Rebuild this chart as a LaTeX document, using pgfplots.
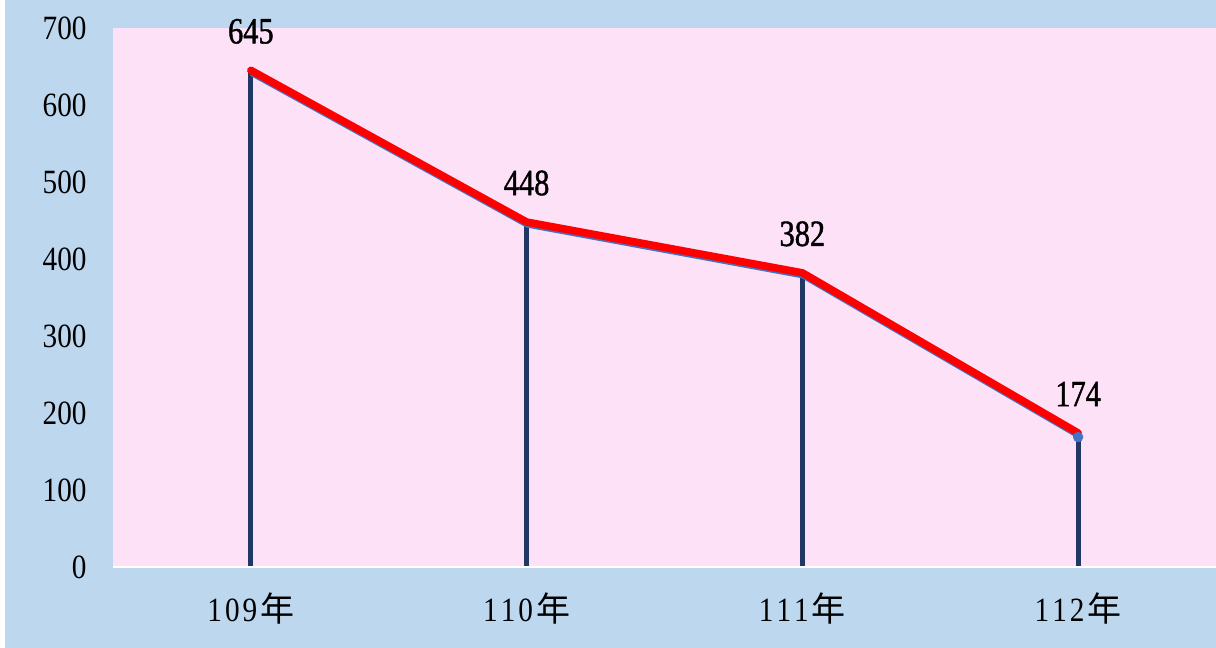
\documentclass[border=0pt]{standalone}
\usepackage{fontspec}
\usepackage{pgfplots}
\pgfplotsset{compat=1.18}
\setmainfont{Liberation Serif}
\newfontfamily\tickfont[FakeStretch=0.86]{Liberation Serif}
\newfontfamily\labfont[FakeStretch=0.82,FakeBold=1.2]{Liberation Serif}
\newfontfamily\cjk{Noto Sans CJK TC}
\definecolor{bgblue}{RGB}{189,215,238}
\definecolor{pinkbg}{RGB}{253,225,247}
\definecolor{navy}{RGB}{32,56,100}
\definecolor{lblue}{RGB}{68,114,196}
\begin{document}
\begin{tikzpicture}[x=1pt,y=1pt]
\fill[white] (0,0) rectangle (608,324);
\fill[bgblue] (2.5,0) rectangle (608,324);
\begin{axis}[at={(56.5pt,40.5pt)}, anchor=south west, scale only axis,
  width=551.5pt, height=269.5pt,
  xmin=-0.5, xmax=3.5, ymin=0, ymax=700,
  axis background/.style={fill=pinkbg},
  axis line style={draw=none},
  major tick length=0pt,
  xtick={0,1,2,3},
  xticklabels={1\hspace{1.5pt}0\hspace{1.5pt}9\hspace{1.5pt}{\cjk 年},
               1\hspace{1.5pt}1\hspace{1.5pt}0\hspace{1.5pt}{\cjk 年},
               1\hspace{1.5pt}1\hspace{1.5pt}1\hspace{1.5pt}{\cjk 年},
               1\hspace{1.5pt}1\hspace{1.5pt}2\hspace{1.5pt}{\cjk 年}},
  ytick distance=100,
  yticklabel style={/pgf/number format/assume math mode=true, font=\tickfont\fontsize{17}{17}\selectfont, anchor=east, inner sep=0pt, xshift=-13pt},
  xticklabel style={font=\tickfont\fontsize{17}{17}\selectfont, anchor=north, inner sep=0pt, yshift=-12.5pt},
  clip=false,
]
\addplot[ycomb, navy, line width=2.6pt, mark=none] coordinates {(0,645) (1,448) (2,382) (3,174)};
\addplot[lblue, line width=1.5pt, yshift=-2pt, mark=*, mark size=1.8pt, mark options={fill=lblue, draw=lblue}, mark indices={4}] coordinates {(0,645) (1,448) (2,382) (3,174)};
\addplot[red, line width=3.8pt, line cap=round, line join=round, mark=none,
  nodes near coords, point meta=explicit symbolic,
  every node near coord/.append style={font=\labfont\fontsize{18.5}{18.5}\selectfont, black, anchor=center, yshift=19.5pt}]
  coordinates {(0,645)[645] (1,448)[448] (2,382)[382] (3,174)[174]};
\draw[white, line width=1pt] (rel axis cs:0,0) -- (rel axis cs:1,0);
\end{axis}
\pgfresetboundingbox
\useasboundingbox (0,0) rectangle (608,324);
\end{tikzpicture}
\end{document}
